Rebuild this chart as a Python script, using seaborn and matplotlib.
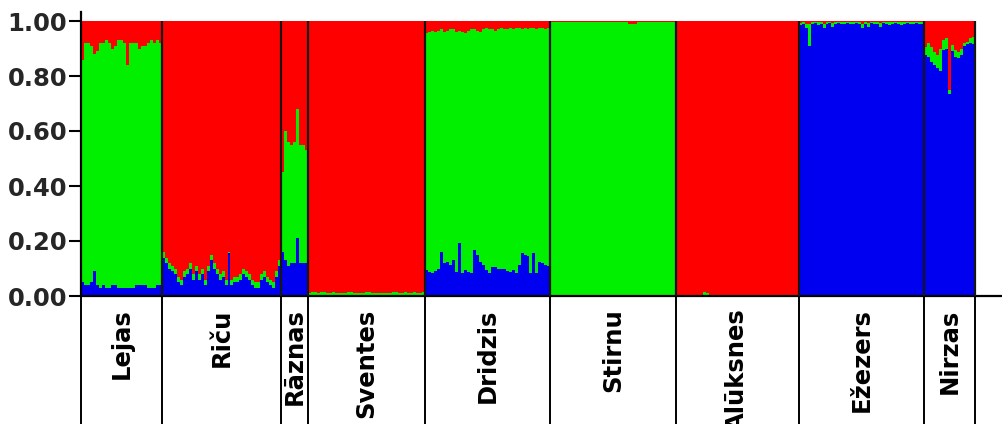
import numpy as np
import pandas as pd
import matplotlib
matplotlib.use("Agg")
import matplotlib.pyplot as plt
import seaborn as sns

# Population labels and number of individuals in each
populations = ["Lejas", "Riču", "Rāznas", "Sventes", "Dridzis",
               "Stirnu", "Alūksnes", "Ežezers", "Nirzas"]

# Membership coefficients per individual: cluster 1 (blue) and cluster 2 (green);
# cluster 3 (red) holds the remainder of each individual's membership.
lejas_blue = [0.05, 0.04, 0.04, 0.05, 0.09, 0.04, 0.03, 0.04, 0.03, 0.03, 0.04, 0.04, 0.03, 0.03,
              0.03, 0.03, 0.03, 0.03, 0.04, 0.04, 0.04, 0.04, 0.03, 0.03, 0.03, 0.04, 0.04]
lejas_green = [0.81, 0.88, 0.88, 0.86, 0.79, 0.85, 0.89, 0.88, 0.90, 0.89, 0.86, 0.87, 0.90, 0.90,
               0.89, 0.81, 0.89, 0.89, 0.88, 0.86, 0.87, 0.87, 0.89, 0.90, 0.89, 0.89, 0.88]

ricu_blue = [0.14, 0.12, 0.10, 0.09, 0.08, 0.05, 0.04, 0.07, 0.08, 0.10, 0.06, 0.09, 0.06, 0.08,
             0.04, 0.09, 0.13, 0.10, 0.08, 0.06, 0.07, 0.04, 0.155, 0.04, 0.05, 0.05, 0.06, 0.08,
             0.07, 0.06, 0.04, 0.03, 0.03, 0.06, 0.07, 0.05, 0.04, 0.03, 0.07, 0.11]
ricu_green = [0.02, 0.02, 0.02, 0.02, 0.02, 0.02, 0.02, 0.02, 0.02, 0.02, 0.02, 0.02, 0.02, 0.02,
              0.02, 0.02, 0.02, 0.02, 0.02, 0.02, 0.02, 0.02, 0.005, 0.02, 0.02, 0.02, 0.02, 0.02,
              0.02, 0.02, 0.02, 0.02, 0.02, 0.02, 0.02, 0.02, 0.02, 0.02, 0.02, 0.02]

raznas_blue = [0.16, 0.13, 0.11, 0.12, 0.12, 0.21, 0.12, 0.12, 0.12]
raznas_green = [0.29, 0.47, 0.45, 0.43, 0.44, 0.47, 0.43, 0.43, 0.41]

sventes_blue = [0.003, 0.002, 0.003, 0.002, 0.002, 0.003, 0.002, 0.003, 0.002, 0.002, 0.003, 0.002, 0.002,
                0.003, 0.002, 0.002, 0.003, 0.002, 0.002, 0.003, 0.002, 0.002, 0.003, 0.002, 0.002, 0.002,
                0.003, 0.002, 0.002, 0.003, 0.002, 0.002, 0.003, 0.002, 0.002, 0.003, 0.002, 0.002, 0.003]
sventes_green = [0.008, 0.012, 0.010, 0.008, 0.014, 0.010, 0.009, 0.008, 0.012, 0.010, 0.008, 0.010, 0.008,
                 0.011, 0.012, 0.008, 0.009, 0.010, 0.008, 0.010, 0.012, 0.008, 0.009, 0.010, 0.008, 0.010,
                 0.009, 0.008, 0.011, 0.010, 0.008, 0.009, 0.012, 0.010, 0.008, 0.010, 0.009, 0.008, 0.010]

dridzis_blue = [0.095, 0.088, 0.085, 0.092, 0.097, 0.161, 0.119, 0.125, 0.113, 0.131, 0.088, 0.194,
                0.082, 0.095, 0.088, 0.082, 0.167, 0.149, 0.125, 0.113, 0.095, 0.082, 0.107, 0.104,
                0.100, 0.100, 0.097, 0.092, 0.088, 0.095, 0.082, 0.113, 0.155, 0.149, 0.145, 0.082,
                0.155, 0.082, 0.125, 0.119, 0.113, 0.110]
dridzis_green = [0.860, 0.872, 0.880, 0.868, 0.868, 0.809, 0.841, 0.840, 0.857, 0.839, 0.872, 0.771,
                 0.878, 0.860, 0.877, 0.888, 0.803, 0.816, 0.835, 0.857, 0.880, 0.888, 0.863, 0.861,
                 0.870, 0.875, 0.873, 0.878, 0.887, 0.875, 0.893, 0.862, 0.815, 0.826, 0.825, 0.893,
                 0.820, 0.888, 0.850, 0.856, 0.857, 0.865]

stirnu_blue = [0.003, 0.002, 0.003, 0.002, 0.004, 0.003, 0.002, 0.003, 0.002, 0.002, 0.003, 0.002,
               0.002, 0.003, 0.002, 0.002, 0.003, 0.002, 0.002, 0.003, 0.002, 0.002, 0.003, 0.002,
               0.002, 0.002, 0.003, 0.002, 0.002, 0.003, 0.002, 0.002, 0.003, 0.002, 0.002, 0.003,
               0.002, 0.002, 0.003, 0.002, 0.002, 0.003]
stirnu_green = [0.995, 0.996, 0.995, 0.996, 0.994, 0.995, 0.996, 0.995, 0.996, 0.996, 0.995, 0.996,
                0.996, 0.995, 0.996, 0.996, 0.995, 0.996, 0.996, 0.995, 0.996, 0.996, 0.995, 0.996,
                0.996, 0.996, 0.985, 0.988, 0.986, 0.995, 0.996, 0.996, 0.995, 0.996, 0.996, 0.995,
                0.996, 0.996, 0.995, 0.996, 0.996, 0.995]

aluksnes_blue = [0.001, 0.001, 0.001, 0.001, 0.001, 0.001, 0.001, 0.001, 0.001, 0.001, 0.001,
                 0.001, 0.001, 0.001, 0.001, 0.001, 0.001, 0.001, 0.001, 0.001, 0.001, 0.001,
                 0.001, 0.001, 0.001, 0.001, 0.001, 0.001, 0.001, 0.001, 0.001, 0.001, 0.001,
                 0.001, 0.001, 0.001, 0.001, 0.001, 0.001, 0.001, 0.001]
aluksnes_green = [0.003, 0.004, 0.003, 0.004, 0.003, 0.004, 0.003, 0.003, 0.004, 0.012, 0.010,
                  0.004, 0.003, 0.004, 0.003, 0.004, 0.003, 0.003, 0.004, 0.003, 0.004, 0.003,
                  0.004, 0.003, 0.003, 0.004, 0.003, 0.004, 0.003, 0.003, 0.004, 0.003, 0.004,
                  0.003, 0.003, 0.004, 0.003, 0.004, 0.003, 0.003, 0.004]

ezezers_blue = [0.985, 0.990, 0.975, 0.910, 0.990, 0.992, 0.985, 0.990, 0.975, 0.990, 0.992, 0.980,
                0.990, 0.992, 0.990, 0.990, 0.992, 0.990, 0.990, 0.992, 0.990, 0.975, 0.990, 0.980,
                0.992, 0.990, 0.990, 0.980, 0.992, 0.990, 0.985, 0.990, 0.992, 0.990, 0.985, 0.990,
                0.992, 0.990, 0.990, 0.992, 0.990, 0.990]
ezezers_green = [0.008, 0.005, 0.015, 0.080, 0.005, 0.004, 0.010, 0.005, 0.015, 0.005, 0.004, 0.012,
                 0.005, 0.004, 0.005, 0.005, 0.004, 0.005, 0.005, 0.004, 0.005, 0.015, 0.005, 0.012,
                 0.004, 0.005, 0.005, 0.012, 0.004, 0.005, 0.010, 0.005, 0.004, 0.005, 0.010, 0.005,
                 0.004, 0.005, 0.005, 0.004, 0.005, 0.005]

nirzas_blue = [0.876, 0.870, 0.852, 0.840, 0.828, 0.820, 0.894, 0.900, 0.735, 0.890, 0.870,
               0.864, 0.876, 0.910, 0.915, 0.920, 0.915]
nirzas_green = [0.030, 0.049, 0.054, 0.048, 0.048, 0.080, 0.036, 0.037, 0.015, 0.023, 0.025,
                0.024, 0.024, 0.009, 0.010, 0.017, 0.028]

blue_groups = [lejas_blue, ricu_blue, raznas_blue, sventes_blue, dridzis_blue,
               stirnu_blue, aluksnes_blue, ezezers_blue, nirzas_blue]
green_groups = [lejas_green, ricu_green, raznas_green, sventes_green, dridzis_green,
                stirnu_green, aluksnes_green, ezezers_green, nirzas_green]

# ---- assemble a tidy table of stacked heights ----
q_blue = np.concatenate(blue_groups)
q_green = np.concatenate(green_groups)
q_red = 1.0 - q_blue - q_green
n_ind = len(q_blue)
df = pd.DataFrame({
    "ind": np.arange(n_ind) + 0.5,
    "blue": q_blue,
    "blue_green": q_blue + q_green,
    "total": q_blue + q_green + q_red,
})
sizes = [len(g) for g in blue_groups]
bounds = np.concatenate([[0], np.cumsum(sizes)])
centers = (bounds[:-1] + bounds[1:]) / 2

sns.set_style("ticks")
plt.rcParams["font.family"] = ["DejaVu Sans"]

W, H = 1003, 424
fig = plt.figure(figsize=(W / 100, H / 100), dpi=100)
ax = fig.add_axes([81 / W, (H - 296) / H, 922 / W, 284 / H])

RED, GREEN, BLUE = "#ff0000", "#00f000", "#0000f0"
for col, colour in [("total", RED), ("blue_green", GREEN), ("blue", BLUE)]:
    sns.barplot(data=df, x="ind", y=col, native_scale=True, width=1.0,
                color=colour, saturation=1, linewidth=0, errorbar=None, ax=ax)

# group separators inside the plot and below the axis
ax.vlines(bounds[1:], 0, 1, colors="#151515", linewidth=1.6, zorder=5)
trans = ax.get_xaxis_transform()
ax.vlines(bounds, -0.46, 0, colors="black", linewidth=1.4, transform=trans, clip_on=False)

for c, name in zip(centers, populations):
    ax.text(c, -0.044, name, transform=trans, rotation=90, ha="center", va="top",
            fontsize=17.5, fontweight="bold", color="black", clip_on=False)

ax.set_xlim(0, n_ind * 922 / 894)
ax.set_ylim(0, 1 + 9 / 275)
yt = [0.0, 0.2, 0.4, 0.6, 0.8, 1.0]
ax.set_yticks(yt)
ax.set_yticklabels([f"{v:.2f}" for v in yt], fontsize=17.5, fontweight="bold")
ax.set_xticks([])
ax.set_xlabel("")
ax.set_ylabel("")
ax.tick_params(axis="y", length=9, width=1.5, pad=1, color="black")
for s in ["top", "right"]:
    ax.spines[s].set_visible(False)
for s in ["left", "bottom"]:
    ax.spines[s].set_linewidth(1.6)
    ax.spines[s].set_color("black")

fig.savefig("out.png", dpi=100, facecolor="white")
